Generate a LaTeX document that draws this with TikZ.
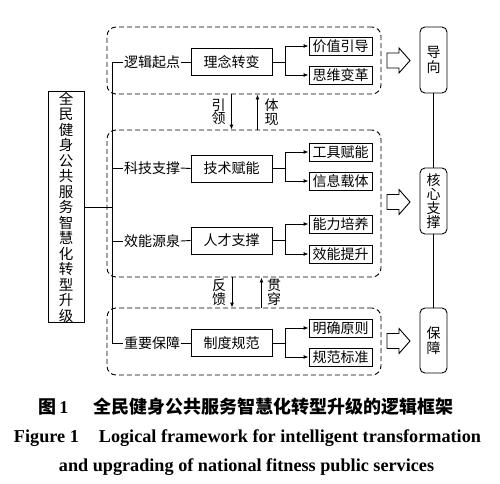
\documentclass[tikz,border=0pt]{standalone}
\usepackage{fontspec}
\setmainfont{Liberation Serif}
\newfontfamily\cjk{Noto Sans CJK SC}
\usetikzlibrary{arrows.meta,calc}
\begin{document}
\begin{tikzpicture}[x=1pt,y=-1pt,
  every node/.style={font=\cjk\fontsize{14}{15.5}\selectfont, inner sep=0pt},
  ln/.style={line width=0.9pt},
  arr/.style={ln,-{Latex[length=5pt,width=4pt]}},
  midbox/.style={draw,ln,minimum width=81pt,minimum height=27pt},
  smallbox/.style={draw,ln,minimum width=63pt,minimum height=18pt},
  sidebox/.style={draw,ln,rounded corners=5pt,minimum width=27pt,text width=14pt,align=center},
  grp/.style={draw,ln,dash pattern=on 5pt off 3pt,rounded corners=9pt,minimum width=274pt},
  lab/.style={},
  vt/.style={text width=14pt,align=center,font=\cjk\fontsize{14}{13.5}\selectfont},
  capzh/.style={font=\cjk\bfseries\fontsize{18}{20}\selectfont},
  capen/.style={font=\rmfamily\bfseries\fontsize{18.2}{20}\selectfont}
]
\useasboundingbox (0,0) rectangle (500,483);
\fill[white] (0,0) rectangle (500,483);

% group boxes
\node[grp,minimum height=67pt] (g1) at (244,60.5) {};
\node[grp,minimum height=147pt] (g2) at (244,203.5) {};
\node[grp,minimum height=67pt] (g3) at (244,341.5) {};

% main box
\node[draw,ln,minimum width=36pt,minimum height=230pt,text width=15pt,align=center,font=\cjk\fontsize{14.5}{15.5}\selectfont] (main) at (66,207)
 {全\\民\\健\\身\\公\\共\\服\\务\\智\\慧\\化\\转\\型\\升\\级};

\coordinate (tr) at (112,0);
\coordinate (fk) at (285,0);

% labels
\node[lab] (L1) at (152,62) {逻辑起点};
\node[lab] (L2) at (152,168) {科技支撑};
\node[lab] (L3) at (152,241) {效能源泉};
\node[lab] (L4) at (152,343) {重要保障};

% mid boxes
\node[midbox] (M1) at (231.5,62) {理念转变};
\node[midbox] (M2) at (231.5,168.5) {技术赋能};
\node[midbox] (M3) at (231.5,240.5) {人才支撑};
\node[midbox] (M4) at (231.5,343) {制度规范};

% small boxes
\node[smallbox] (S1a) at (340.5,46) {价值引导};
\node[smallbox] (S1b) at (340.5,75) {思维变革};
\node[smallbox] (S2a) at (340.5,152) {工具赋能};
\node[smallbox] (S2b) at (340.5,181) {信息载体};
\node[smallbox] (S3a) at (340.5,224) {能力培养};
\node[smallbox] (S3b) at (340.5,254) {效能提升};
\node[smallbox] (S4a) at (340.5,328) {明确原则};
\node[smallbox] (S4b) at (340.5,357) {规范标准};

% side boxes
\node[sidebox,minimum height=66pt,font=\cjk\fontsize{14}{15}\selectfont] (R1) at (433.5,60) {导\\向};
\node[sidebox,minimum height=66pt,font=\cjk\fontsize{14}{14}\selectfont] (R2) at (433.5,201) {核\\心\\支\\撑};
\node[sidebox,minimum height=65pt,font=\cjk\fontsize{14}{15}\selectfont] (R3) at (433.5,340.5) {保\\障};
\draw[ln] (R1.south) -- (R2.north);
\draw[ln] (R2.south) -- (R3.north);

% trunk
\draw[ln] (tr |- L1) -- (tr |- L4);
\draw[ln] (main.east) -- (main.east -| tr);
\foreach \i in {1,2,3,4}{
  \draw[ln] (tr |- L\i) -- ([xshift=-0.5pt]L\i.west);
  \draw[ln] ([xshift=0.5pt]L\i.east) -- (M\i.west);
}
% forks
\foreach \i/\a/\b in {1/S1a/S1b,2/S2a/S2b,3/S3a/S3b,4/S4a/S4b}{
  \draw[ln] (M\i.east) -- (M\i.east -| fk);
  \draw[arr] (M\i.east -| fk) |- (\a.west);
  \draw[arr] (M\i.east -| fk) |- (\b.west);
}

% hollow arrows
\foreach \yy in {60.5,202,341}{
  \draw[ln,line join=miter] (387,{\yy-7.5}) -- (399,{\yy-7.5}) -- (399,{\yy-12.5}) -- (410,\yy)
    -- (399,{\yy+12.5}) -- (399,{\yy+7.5}) -- (387,{\yy+7.5}) -- cycle;
}

% between-group arrows
\coordinate (a1) at (231.5,0);
\coordinate (a2) at (257.5,0);
\coordinate (a3) at (232,0);
\coordinate (a4) at (261.5,0);
\draw[arr] (a1 |- g1.south) -- (a1 |- g2.north);
\draw[arr] (a2 |- g2.north) -- (a2 |- g1.south);
\draw[arr] (a3 |- g2.south) -- (a3 |- g3.north);
\draw[arr] (a4 |- g3.north) -- (a4 |- g2.south);
\node[vt] (t1) at (218.5,112) {引\\领};
\node[vt] (t2) at (271.5,112) {体\\现};
\node[vt] (t3) at (219,292.5) {反\\馈};
\node[vt] (t4) at (274,292.5) {贯\\穿};

% caption
\node[capzh] (c1) at (246,407) {图\,{\rmfamily 1}\hspace{1.4em}全民健身公共服务智慧化转型升级的逻辑框架};
\node[capen] (c2) at (247.5,438) {Figure 1\hspace{1.1em}Logical framework for intelligent transformation};
\node[capen] (c3) at (246.5,467) {and upgrading of national fitness public services};
\end{tikzpicture}
\end{document}
